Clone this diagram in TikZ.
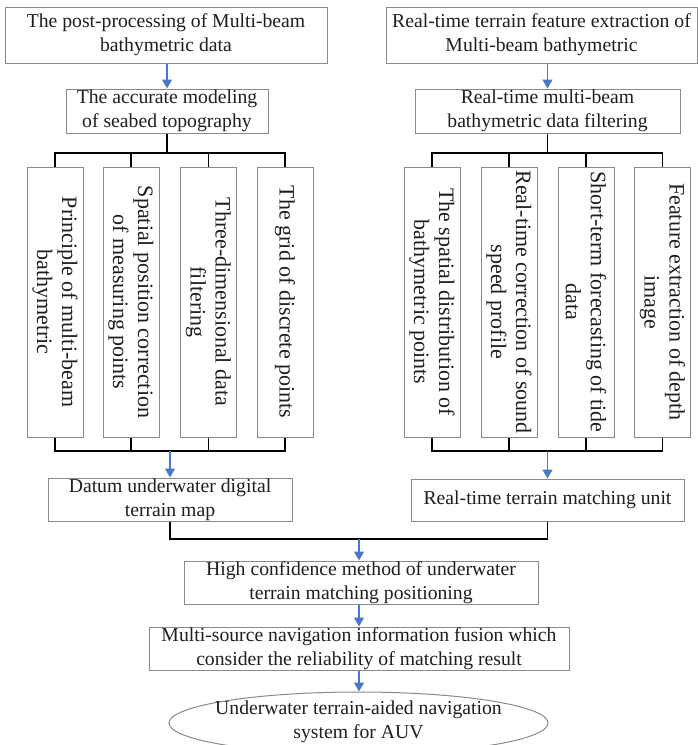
\documentclass[tikz,border=0pt]{standalone}
\usepackage{fontspec}
\setmainfont{Liberation Serif}
\usetikzlibrary{arrows.meta,shapes.geometric}
\definecolor{boxgray}{HTML}{8A8A8A}
\definecolor{arrowblue}{HTML}{4A78C8}
\definecolor{txt}{HTML}{1E1E1E}
\begin{document}
\begin{tikzpicture}[x=1pt,y=-1pt,
  box/.style={draw=boxgray,line width=1pt,inner sep=0pt,align=center,text=txt,font=\fontsize{19.7}{24}\selectfont},
  vbox/.style={box,rotate=-90,minimum width=270pt,minimum height=56pt,font=\fontsize{22}{25}\selectfont},
  bus/.style={draw=black,line width=1.5pt},
  flow/.style={draw=arrowblue,line width=1.3pt,-{Triangle[width=10pt,length=9pt]}}]
\useasboundingbox (0,0) rectangle (698,745);
\clip (0,0) rectangle (698,745);
% top boxes
\node[box,minimum width=322pt,minimum height=56pt] (topL) at (166,35) {The post-processing of Multi-beam\\bathymetric data};
\node[box,minimum width=311pt,minimum height=56pt] (topR) at (541.5,35) {Real-time terrain feature extraction of\\Multi-beam bathymetric};
\node[box,minimum width=202pt,minimum height=44pt] (accL) at (167,111) {The accurate modeling\\of seabed topography};
\node[box,minimum width=265pt,minimum height=44pt] (filR) at (547.5,111) {Real-time multi-beam\\bathymetric data filtering};
% vertical boxes left
\node[vbox] (l1) at (55,302) {Principle of multi-beam\\bathymetric};
\node[vbox] (l2) at (131,302) {Spatial position correction\\of measuring points};
\node[vbox] (l3) at (208.5,302) {Three-dimensional data\\filtering};
\node[vbox] (l4) at (285,302) {The grid of discrete points};
% vertical boxes right
\node[vbox] (r1) at (432,302) {The spatial distribution of\\bathymetric points};
\node[vbox] (r2) at (509,302) {Real-time correction of sound\\speed profile};
\node[vbox] (r3) at (586,302) {Short-term forecasting of tide\\data};
\node[vbox] (r4) at (662.5,302) {Feature extraction of depth\\image};
% middle
\node[box,minimum width=244pt,minimum height=43pt] (datum) at (170,499.5) {Datum underwater digital\\terrain map};
\node[box,minimum width=273pt,minimum height=42pt] (match) at (547.5,500) {Real-time terrain matching unit};
\node[box,minimum width=354pt,minimum height=43pt] (high) at (361,582.5) {High confidence method of underwater\\terrain matching positioning};
\node[box,minimum width=420pt,minimum height=43pt] (fuse) at (359,648.5) {Multi-source navigation information fusion which\\consider the reliability of matching result};
\node[box,ellipse,inner sep=0pt,minimum width=379pt,minimum height=62pt] (auv) at (358.5,723) {};
\node[align=center,text=txt,font=\fontsize{19.7}{24}\selectfont] (auvtxt) at (358.5,722) {Underwater terrain-aided navigation\\system for AUV};
% coordinates
\coordinate (busLt) at (167,153);
\coordinate (busRt) at (547.5,153);
\coordinate (busLb) at (170,451);
\coordinate (busRb) at (547.5,451);
\coordinate (busM) at (359,539);
% arrows top
\draw[flow] (topL.south -| accL.north) -- (accL.north);
\draw[flow] (topR.south -| filR.north) -- (filR.north);
% left top bus
\draw[bus] (accL.south) -- (busLt);
\draw[bus] (l1.west) -- (l1.west |- busLt) -- (l4.west |- busLt) -- (l4.west);
\draw[bus] (l2.west) -- (l2.west |- busLt);
\draw[bus] (l3.west) -- (l3.west |- busLt);
% right top bus
\draw[bus] (filR.south) -- (busRt);
\draw[bus] (r1.west) -- (r1.west |- busRt) -- (r4.west |- busRt) -- (r4.west);
\draw[bus] (r2.west) -- (r2.west |- busRt);
\draw[bus] (r3.west) -- (r3.west |- busRt);
% left bottom bus
\draw[bus] (l1.east) -- (l1.east |- busLb) -- (l4.east |- busLb) -- (l4.east);
\draw[bus] (l2.east) -- (l2.east |- busLb);
\draw[bus] (l3.east) -- (l3.east |- busLb);
\draw[flow] (busLb) -- (datum.north);
% right bottom bus
\draw[bus] (r1.east) -- (r1.east |- busRb) -- (r4.east |- busRb) -- (r4.east);
\draw[bus] (r2.east) -- (r2.east |- busRb);
\draw[bus] (r3.east) -- (r3.east |- busRb);
\draw[flow] (busRb) -- (match.north);
% merge
\draw[bus] (datum.south) -- (datum.south |- busM) -- (match.south |- busM) -- (match.south);
\draw[flow] (busM) -- (busM |- high.north);
\draw[flow] (high.south -| busM) -- (busM |- fuse.north);
\draw[flow] (fuse.south -| busM) -- (busM |- auv.north);
\end{tikzpicture}
\end{document}
